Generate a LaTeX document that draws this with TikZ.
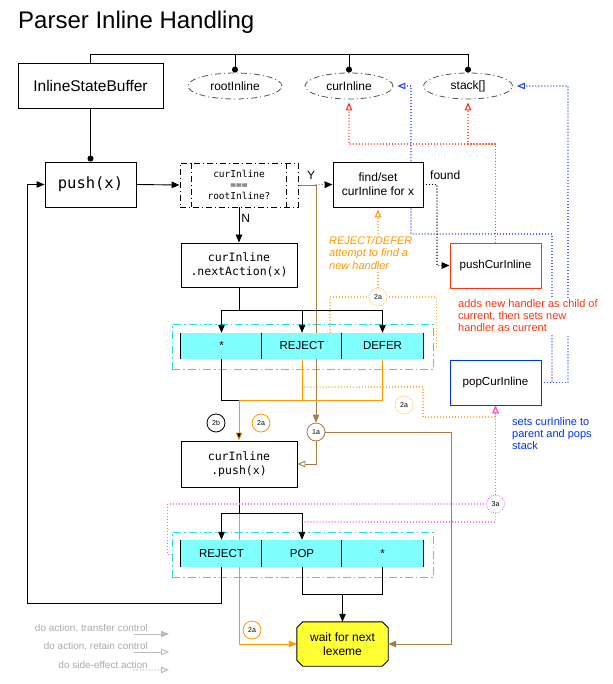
\documentclass[tikz,border=0pt]{standalone}
\usepackage{fontspec}
\setmainfont{Liberation Sans}
\newfontfamily\monof{DejaVu Sans Mono}
\usetikzlibrary{arrows.meta,shapes.geometric,shapes.misc,calc}
\pgfdeclarelayer{bg}
\pgfsetlayers{bg,main}
\definecolor{cellfill}{HTML}{80FFFF}
\definecolor{contcyan}{HTML}{22E0F0}
\definecolor{myorange}{HTML}{FF9900}
\definecolor{mybrown}{HTML}{A67C45}
\definecolor{myred}{HTML}{FF3311}
\definecolor{myblue}{HTML}{0033FF}
\definecolor{dotblue}{HTML}{2244FF}
\definecolor{mypink}{HTML}{FF44FF}
\definecolor{leggrey}{HTML}{BBBBBB}
\definecolor{legtext}{HTML}{AAAAAA}
\definecolor{myyellow}{HTML}{FFFF33}
\definecolor{ellgrey}{HTML}{555555}
\begin{document}
\begin{tikzpicture}[x=1pt,y=-1pt,
  ln/.style={line width=0.9pt, draw=black},
  arr/.style={-{Triangle[length=8pt,width=6.5pt]}},
  oarr/.style={-{Triangle[open,length=8pt,width=6.5pt]}},
  enddot/.style={-{Circle[length=6pt]}},
  dotln/.style={line width=1.1pt, dash pattern=on 0.01pt off 3pt, line cap=round},
  box/.style={draw, line width=0.9pt, fill=white, align=center, inner sep=0pt},
  ell/.style={ellipse, draw=ellgrey, line width=0.8pt, dash pattern=on 6pt off 3pt on 1pt off 3pt, inner sep=0pt, font=\fontsize{12}{14}\selectfont},
  cell/.style={fill=cellfill, minimum height=26pt, inner sep=0pt, font=\fontsize{11.5}{13}\selectfont},
  cont/.style={draw=contcyan, line width=0.9pt, dash pattern=on 8pt off 3pt on 1.5pt off 3pt, minimum width=261pt, minimum height=45pt, inner sep=0pt},
  lab/.style={circle, draw, line width=0.8pt, minimum size=18pt, inner sep=0pt, fill=white, font=\fontsize{7}{8}\selectfont},
  t12/.style={font=\fontsize{12}{14}\selectfont},
  brn/.style={line width=0.9pt, draw=mybrown},
  org/.style={line width=0.9pt, draw=myorange},
]
\begin{pgfonlayer}{bg}
\fill[white] (0,0) rectangle (612,684);
\end{pgfonlayer}
\useasboundingbox (0,0) rectangle (612,684);

% title
\node[font=\fontsize{24}{27}\selectfont, anchor=west, inner sep=0pt] (title) at (18,22) {Parser Inline Handling};

% main boxes
\node[box, minimum width=145pt, minimum height=45pt, font=\fontsize{15.5}{18}\selectfont] (isb) at (90.5,85.5) {InlineStateBuffer};
\node[ell, minimum width=94pt, minimum height=26pt] (rootI) at (235,86) {rootInline};
\node[ell, minimum width=88pt, minimum height=26pt] (curI) at (349,86) {curInline};
\node[ell, minimum width=89pt, minimum height=26pt] (stk) at (468,86) {stack[]};

\node[box, minimum width=91pt, minimum height=45pt, font=\monof\fontsize{15.5}{18}\selectfont] (push) at (90.5,184.5) {push(x)};
\node[box, dash pattern=on 6pt off 3pt on 1pt off 3pt, line width=0.8pt, minimum width=118pt, minimum height=44pt, font=\monof\fontsize{9.5}{11}\selectfont] (dec) at (239,185) {curInline\\===\\rootInline?};
\draw[line width=0.8pt, dash pattern=on 6pt off 3pt on 1pt off 3pt] ($(dec.north west)+(12,0)$) -- ($(dec.south west)+(12,0)$);
\draw[line width=0.8pt, dash pattern=on 6pt off 3pt on 1pt off 3pt] ($(dec.north east)+(-12,0)$) -- ($(dec.south east)+(-12,0)$);
\node[box, minimum width=90pt, minimum height=45pt, font=\fontsize{12}{14}\selectfont] (find) at (378,184.5) {find/set\\curInline for x};
\node[box, minimum width=116pt, minimum height=44pt, font=\monof\fontsize{11.5}{14}\selectfont] (next) at (239,265) {curInline\\.nextAction(x)};
\node[box, minimum width=116pt, minimum height=46pt, font=\monof\fontsize{11.5}{14}\selectfont] (push2) at (239,464) {curInline\\.push(x)};
\node[box, draw=myred, minimum width=91pt, minimum height=45pt, font=\fontsize{11.6}{14}\selectfont] (pcur) at (495.5,265.5) {pushCurInline};
\node[box, draw=myblue, minimum width=91pt, minimum height=45pt, font=\fontsize{11.6}{14}\selectfont] (pop) at (495.5,382.5) {popCurInline};
\node[minimum width=91pt, minimum height=44pt, inner sep=0pt, align=center, font=\fontsize{12}{14}\selectfont] (wait) at (342.5,644) {wait for next\\lexeme};
\begin{pgfonlayer}{bg}
\filldraw[line width=0.9pt, fill=myyellow, draw=black]
  ($(wait.north west)+(6,0)$) -- ($(wait.north east)+(-6,0)$) -- ($(wait.north east)+(0,6)$)
  -- ($(wait.south east)+(0,-6)$) -- ($(wait.south east)+(-6,0)$) -- ($(wait.south west)+(6,0)$)
  -- ($(wait.south west)+(0,-6)$) -- ($(wait.north west)+(0,6)$) -- cycle;
\end{pgfonlayer}

% containers and cells
\begin{pgfonlayer}{bg}
\node[cont] (k1) at (302.5,346.5) {};
\node[cont] (k2) at (302.5,554.5) {};
\end{pgfonlayer}
\node[cell, minimum width=81pt] (c11) at (221.5,346) {*};
\node[cell, minimum width=80pt] (c12) at (302,346) {REJECT};
\node[cell, minimum width=81pt] (c13) at (382.5,346) {DEFER};
\node[cell, minimum width=81pt, minimum height=27pt] (r21) at (221.5,553.5) {REJECT};
\node[cell, minimum width=80pt, minimum height=27pt] (r22) at (302,553.5) {POP};
\node[cell, minimum width=81pt, minimum height=27pt] (r23) at (382.5,553.5) {*};
\foreach \c in {c11,c12,c13,r21,r22,r23}{
  \draw[ln] (\c.north west) -- (\c.south west);
}
\draw[ln] (c13.north east) -- (c13.south east);
\draw[ln] (r23.north east) -- (r23.south east);

% top bar
\coordinate (tb) at (90.5,54);
\draw[ln] (isb.north) -- (tb) -- (tb -| stk.north);
\draw[ln, enddot] (tb -| rootI.north) -- (rootI.north);
\draw[ln, enddot] (tb -| curI.north) -- (curI.north);
\draw[ln, enddot] (tb -| stk.north) -- (stk.north);

% main flow
\draw[ln, enddot] (isb.south) -- (push.north);
\draw[ln, arr] (push.east) -- (dec.west);
\draw[ln, arr] (dec.south) -- node[right, pos=0.3, t12, inner sep=2pt] {N} (next.north);

\node[lab, draw=mybrown] (a1) at (316,432) {1a};
\coordinate (yb) at (316,185);
\begin{pgfonlayer}{bg}
\draw[brn, arr] (dec.east) -- (yb) -- (a1.north);
\end{pgfonlayer}
\node[t12, inner sep=0pt] (ylab) at (311,175) {Y};
\draw[dotln, arr] (yb) -- (find.west);
\node[t12, inner sep=0pt, anchor=west] (found) at (430,175) {found};
\draw[dotln, arr] (find.east) -- (437,184.5) |- (pcur.west);

\coordinate (j1) at (239,310);
\draw[ln] (next.south) -- (j1);
\draw[ln, arr] (j1) -| (c11.north);
\draw[ln, arr] (j1) -| (c13.north);
\draw[ln, arr] (c12.north |- j1) -- (c12.north);

\coordinate (j2) at (239,400);
\draw[ln] (c11.south) |- (j2);
\draw[org] (c12.south) |- (j2);
\draw[org] (c13.south) |- (j2);
\draw[org, -{Triangle[length=8pt,width=6.5pt,fill=black]}] (j2) -- (push2.north);
\node[lab] (b2) at (216,423) {2b};
\node[lab, draw=myorange] (o2b) at (261,423) {2a};

\draw[brn, oarr] (a1.south) |- (push2.east);
\draw[brn, arr] (a1.east) -- (451,432) |- (wait.east);

\coordinate (j3) at (239,513);
\draw[ln] (push2.south) -- (j3);
\draw[ln, arr] (j3) -| (r21.north);
\draw[ln, arr] (j3) -| (r22.north);
\begin{pgfonlayer}{bg}
\draw[org, -{Triangle[length=8pt,width=6.5pt]}, myorange] (j3) |- (wait.west);
\end{pgfonlayer}
\node[lab, draw=myorange] (o3) at (252,630) {2a};

\draw[ln, arr] (r21.south) -- (221.5,603) -- (27,603) |- (push.west);
\coordinate (j4) at (342.5,594);
\draw[ln] (r22.south) |- (j4);
\draw[ln] (r23.south) |- (j4);
\draw[ln, arr] (j4) -- (wait.north);

% red dotted
\coordinate (rj) at (495.5,144);
\draw[dotln, myred, oarr, shorten >=3pt] (pcur.north) -- (rj) -| (curI.south);
\draw[dotln, myred, oarr, shorten >=3pt] (rj) -| (stk.south);

% blue dotted
\begin{pgfonlayer}{bg}
\draw[dotln, dotblue, oarr, shorten >=4pt] (pop.east) -- (552,382.5) -- (552,234) -- (411,234) |- (curI.east);
\draw[dotln, dotblue, oarr, shorten >=4pt] (pop.east) -- (568,382.5) |- (stk.east);
\end{pgfonlayer}

% orange dotted upper
\node[lab, draw=myorange, dash pattern=on 0.01pt off 2pt, line cap=round, line width=1pt] (o1) at (378,297) {2a};
\draw[dotln, myorange] ($(c12.north)+(28,0)$) |- (o1.west);
\draw[dotln, myorange] (k1.east) -- ++(3,0) |- (o1.east);
\draw[dotln, myorange, oarr, shorten >=2pt] (o1.north) -- (find.south);
\node[fill=white, anchor=west, align=left, text=myorange, inner sep=1pt, font=\itshape\fontsize{11}{12.5}\selectfont] (otext) at (328,253) {REJECT/DEFER\\attempt to find a\\new handler};

% orange dotted lower
\node[lab, draw=myorange, dash pattern=on 0.01pt off 2pt, line cap=round, line width=1pt] (o2) at (404,405) {2a};
\draw[dotln, myorange, oarr] (302,387) -- (423,387) -- (423,417) -| (pop.south);

% pink dotted
\node[lab, draw=mypink, dash pattern=on 0.01pt off 2pt, line cap=round, line width=1pt] (p3) at (495.5,504) {3a};
\draw[dotln, mypink] (k2.west) -- ++(-4,0) |- (p3.west);
\draw[dotln, mypink] (302,522) -| (p3.south);
\draw[dotln, mypink, oarr] (p3.north) -- (pop.south);

% notes
\node[anchor=west, align=left, text=myred, fill=white, inner sep=2pt, font=\fontsize{11}{12}\selectfont] (rnote) at (456,316) {adds new handler as child of\\current, then sets new\\handler as current};
\node[anchor=west, align=left, text=myblue, inner sep=0pt, font=\fontsize{11}{12}\selectfont] (bnote) at (512,434) {sets curInline to\\parent and pops\\stack};

% legend
\node[anchor=east, text=legtext, inner sep=0pt, font=\fontsize{10}{12}\selectfont] (lg1) at (148,629) {do action, transfer control};
\node[anchor=east, text=legtext, inner sep=0pt, font=\fontsize{10}{12}\selectfont] (lg2) at (148,647) {do action, retain control};
\node[anchor=east, text=legtext, inner sep=0pt, font=\fontsize{10}{12}\selectfont] (lg3) at (148,665) {do side-effect action};
\coordinate (la1) at (134,634); \coordinate (lb1) at (169,634);
\coordinate (la2) at (134,652); \coordinate (lb2) at (169,652);
\coordinate (la3) at (134,670); \coordinate (lb3) at (169,670);
\draw[line width=0.9pt, leggrey, arr] (la1) -- (lb1);
\draw[line width=0.9pt, leggrey, oarr] (la2) -- (lb2);
\draw[dotln, leggrey, oarr] (la3) -- (lb3);
\end{tikzpicture}
\end{document}
